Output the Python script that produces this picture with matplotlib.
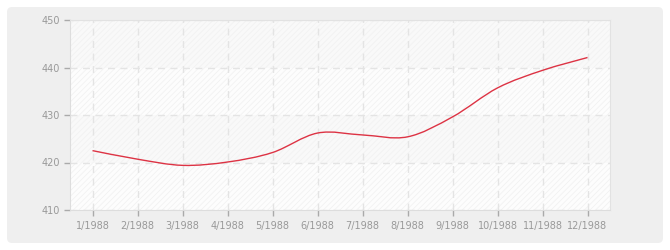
import numpy as np
import matplotlib.pyplot as plt
from matplotlib.path import Path
from matplotlib.patches import PathPatch, FancyBboxPatch, Rectangle

# monthly values
months = ['1/1988', '2/1988', '3/1988', '4/1988', '5/1988', '6/1988',
          '7/1988', '8/1988', '9/1988', '10/1988', '11/1988', '12/1988']
values = [422.5, 420.7, 419.4, 420.1, 422.1, 426.2,
          425.8, 425.4, 429.6, 435.7, 439.4, 442.1]
yticks = [410, 420, 430, 440, 450]


def smooth_path(x, y):
    '''bezier path through the points (catmull-rom style control points)'''
    x = np.asarray(x, float)
    y = np.asarray(y, float)
    verts = [(x[0], y[0])]
    codes = [Path.MOVETO]
    n = len(x)
    for i in range(n - 1):
        x0, y0 = (x[i - 1], y[i - 1]) if i > 0 else (x[i], y[i])
        x3, y3 = (x[i + 2], y[i + 2]) if i + 2 < n else (x[i + 1], y[i + 1])
        c1 = (x[i] + (x[i + 1] - x0) / 6, y[i] + (y[i + 1] - y0) / 6)
        c2 = (x[i + 1] - (x3 - x[i]) / 6, y[i + 1] - (y3 - y[i]) / 6)
        verts += [c1, c2, (x[i + 1], y[i + 1])]
        codes += [Path.CURVE4] * 3
    return Path(verts, codes)


plt.rcParams['hatch.color'] = '#f0f0f0'
plt.rcParams['hatch.linewidth'] = 0.6

fig = plt.figure(figsize=(6.7, 2.5), dpi=100)
fig.patch.set_facecolor('white')

# grey rounded panel behind everything
bg = fig.add_axes([0, 0, 1, 1], zorder=-1)
bg.axis('off')
bg.set_xlim(0, 670)
bg.set_ylim(0, 250)
bg.add_patch(FancyBboxPatch((7, 7), 656, 236, boxstyle='round,pad=0,rounding_size=5',
                            facecolor='#efefef', edgecolor='none'))

ax = fig.add_axes([70 / 670, 40 / 250, 540 / 670, 190 / 250], zorder=1)
ax.set_facecolor('#fbfbfb')
ax.set_xlim(-0.5, 11.5)
ax.set_ylim(410, 450)

# alternating bands, hatched over the whole area
for k, lo in enumerate(yticks[:-1]):
    shade = '#fdfdfd' if k % 2 == 0 else '#f9f9f9'
    ax.add_patch(Rectangle((-0.5, lo), 12, 10, facecolor=shade,
                           edgecolor='none', zorder=0))
ax.add_patch(Rectangle((-0.5, 410), 12, 40, facecolor='none', hatch='//////',
                       edgecolor='#f2f2f2', linewidth=0, zorder=0.5))

xs = np.arange(len(months))
ax.set_xticks(xs)
ax.set_xticklabels(months)
ax.set_yticks(yticks)
ax.grid(True, color='#e4e4e4', linestyle=(0, (5, 4)), linewidth=1)
ax.set_axisbelow(True)

ax.add_patch(PathPatch(smooth_path(xs, values), facecolor='none',
                       edgecolor='#dd3344', linewidth=1, zorder=3))

for side in ['top', 'right']:
    ax.spines[side].set_color('#e2e2e2')
for side in ['left', 'bottom']:
    ax.spines[side].set_color('#dddddd')
ax.tick_params(axis='both', labelsize=7, length=4, width=1)
ax.tick_params(axis='x', pad=4, colors='#aaaaaa', labelcolor='#999999')
ax.tick_params(axis='y', pad=3, colors='#aaaaaa', labelcolor='#999999')

fig.savefig('out.png', dpi=100)
